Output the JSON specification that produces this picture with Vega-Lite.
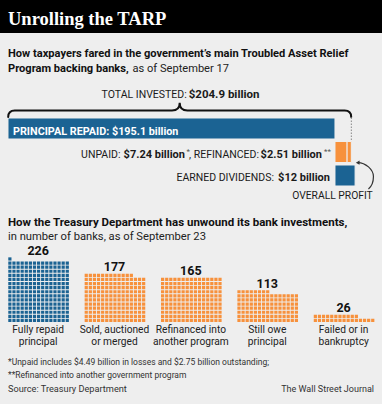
{
  "$schema": "https://vega.github.io/schema/vega-lite/v6.json",
  "background": "#eeeeee",
  "padding": 0,
  "spacing": 0,
  "config": {
    "view": {"stroke": null},
    "font": "Roboto, sans-serif",
    "text": {"color": "#1a1a1a"}
  },
  "datasets": {
    "annotations": [
      {
        "total_lead": "TOTAL INVESTED:",
        "total_amount": "$204.9 billion",
        "principal": "PRINCIPAL REPAID: $195.1 billion",
        "unpaid_lead": "UNPAID:",
        "unpaid_amount": "$7.24 billion",
        "refinanced_lead": ", REFINANCED:",
        "refinanced_amount": "$2.51 billion",
        "dividends_lead": "EARNED DIVIDENDS:",
        "dividends_amount": "$12 billion",
        "profit": "OVERALL PROFIT",
        "note_one": "*",
        "note_two": "**"
      }
    ]
  },
  "vconcat": [
    {
      "width": 382,
      "height": 33,
      "view": {"fill": "#000000", "stroke": null},
      "data": {"values": [{"headline": "Unrolling the TARP"}]},
      "mark": {"type": "text", "align": "left", "baseline": "alphabetic", "font": "Liberation Serif, DejaVu Serif, serif", "fontWeight": "bold", "fontSize": 18.5, "color": "#ffffff", "dx": 8},
      "encoding": {
        "x": {"datum": 0, "type": "quantitative", "scale": {"domain": [0, 1]}, "axis": null},
        "y": {"datum": 0.23, "type": "quantitative", "scale": {"domain": [0, 1]}, "axis": null},
        "text": {"field": "headline"}
      }
    },
    {
      "width": 382,
      "height": 47,
      "data": {"values": [{"heading": "How taxpayers fared in the government’s main Troubled Asset Relief", "heading2": "Program backing banks,", "dek": "as of September 17"}]},
      "encoding": {"x": {"datum": 0, "type": "quantitative", "scale": {"domain": [0, 1]}, "axis": null}},
      "layer": [
        {
          "mark": {"type": "text", "align": "left", "baseline": "alphabetic", "fontWeight": "bold", "fontSize": 11.1, "color": "#111111", "dx": 8},
          "encoding": {
            "y": {"datum": "line 1", "type": "nominal", "scale": {"type": "point", "domain": ["line 1", "line 2"], "padding": 1.067, "align": 0.76}, "axis": null},
            "text": {"field": "heading"}
          }
        },
        {
          "mark": {"type": "text", "align": "left", "baseline": "alphabetic", "fontWeight": "bold", "fontSize": 11.1, "color": "#111111", "dx": 8},
          "encoding": {"y": {"datum": "line 2", "type": "nominal"}, "text": {"field": "heading2"}}
        },
        {
          "mark": {"type": "text", "align": "left", "baseline": "alphabetic", "fontSize": 11.1, "color": "#222222", "dx": 132.5},
          "encoding": {"y": {"datum": "line 2", "type": "nominal"}, "text": {"field": "dek"}}
        }
      ]
    },
    {
      "width": 382,
      "height": 129.5,
      "layer": [
        {
          "data": {"values": [
            {"row": "Principal repaid", "part": "Principal repaid", "from": 0, "to": 195.1},
            {"row": "Unpaid and refinanced", "part": "Unpaid", "from": 195.1, "to": 202.34},
            {"row": "Unpaid and refinanced", "part": "Refinanced", "from": 202.34, "to": 204.85},
            {"row": "Earned dividends", "part": "Earned dividends", "from": 195.1, "to": 207.1}
          ]},
          "mark": {"type": "bar", "stroke": "#eeeeee", "strokeWidth": 1},
          "encoding": {
            "x": {"field": "from", "type": "quantitative", "scale": {"domain": [-4.77, 223.16], "nice": false, "zero": false}, "axis": null},
            "x2": {"field": "to"},
            "y": {"field": "row", "type": "nominal", "scale": {"domain": ["Total invested", "Principal repaid", "Unpaid and refinanced", "Earned dividends", "Overall profit"], "paddingInner": 0.106, "paddingOuter": 0.3085, "align": 1}, "axis": null},
            "color": {"field": "part", "type": "nominal", "scale": {"domain": ["Principal repaid", "Unpaid", "Refinanced", "Earned dividends"], "range": ["#1b6393", "#f7913c", "#f7913c", "#1b6393"]}, "legend": null}
          }
        },
        {
          "data": {"name": "annotations"},
          "mark": {"type": "point", "shape": "M-1,0.038Q-1,0,-0.962,0L-0.045,0Q0,0,0,-0.045Q0,0,0.045,0L0.962,0Q1,0,1,0.038", "size": 117649, "filled": false, "stroke": "#111111", "strokeWidth": 2, "opacity": 1, "strokeCap": "round"},
          "encoding": {"x": {"datum": 102.45}, "y": {"datum": "Total invested", "bandPosition": 0.76}}
        },
        {
          "data": {"name": "annotations"},
          "mark": {"type": "point", "shape": "M0,-1L0,1", "size": 576, "filled": false, "stroke": "#999999", "strokeWidth": 1.2, "strokeDash": [1.5, 1.5], "opacity": 1},
          "encoding": {"x": {"datum": 204.9}, "y": {"datum": "Principal repaid", "bandPosition": 0.55}}
        },
        {
          "data": {"name": "annotations"},
          "mark": {"type": "text", "align": "left", "baseline": "alphabetic", "fontWeight": "bold", "fontSize": 10.8, "color": "#ffffff", "dx": 5},
          "encoding": {"x": {"datum": 0}, "y": {"datum": "Principal repaid", "bandPosition": 0.8}, "text": {"field": "principal"}}
        },
        {
          "data": {"name": "annotations"},
          "mark": {"type": "text", "align": "right", "baseline": "alphabetic", "fontSize": 10.5, "dx": 7},
          "encoding": {"x": {"datum": 102.45}, "y": {"datum": "Total invested", "bandPosition": 0.18}, "text": {"field": "total_lead"}}
        },
        {
          "data": {"name": "annotations"},
          "mark": {"type": "text", "align": "left", "baseline": "alphabetic", "fontSize": 11.5, "fontWeight": "bold", "dx": 9},
          "encoding": {"x": {"datum": 102.45}, "y": {"datum": "Total invested", "bandPosition": 0.18}, "text": {"field": "total_amount"}}
        },
        {
          "data": {"name": "annotations"},
          "mark": {"type": "text", "align": "right", "baseline": "alphabetic", "fontSize": 10.5, "dx": -214.5},
          "encoding": {"x": {"datum": 195.1}, "y": {"datum": "Unpaid and refinanced", "bandPosition": 0.78}, "text": {"field": "unpaid_lead"}}
        },
        {
          "data": {"name": "annotations"},
          "mark": {"type": "text", "align": "right", "baseline": "alphabetic", "fontSize": 11, "fontWeight": "bold", "dx": -150},
          "encoding": {"x": {"datum": 195.1}, "y": {"datum": "Unpaid and refinanced", "bandPosition": 0.78}, "text": {"field": "unpaid_amount"}}
        },
        {
          "data": {"name": "annotations"},
          "mark": {"type": "text", "align": "right", "baseline": "alphabetic", "fontSize": 8, "color": "#555555", "dx": -145, "dy": -4},
          "encoding": {"x": {"datum": 195.1}, "y": {"datum": "Unpaid and refinanced", "bandPosition": 0.78}, "text": {"field": "note_one"}}
        },
        {
          "data": {"name": "annotations"},
          "mark": {"type": "text", "align": "right", "baseline": "alphabetic", "fontSize": 10.5, "dx": -76},
          "encoding": {"x": {"datum": 195.1}, "y": {"datum": "Unpaid and refinanced", "bandPosition": 0.78}, "text": {"field": "refinanced_lead"}}
        },
        {
          "data": {"name": "annotations"},
          "mark": {"type": "text", "align": "right", "baseline": "alphabetic", "fontSize": 11, "fontWeight": "bold", "dx": -13},
          "encoding": {"x": {"datum": 195.1}, "y": {"datum": "Unpaid and refinanced", "bandPosition": 0.78}, "text": {"field": "refinanced_amount"}}
        },
        {
          "data": {"name": "annotations"},
          "mark": {"type": "text", "align": "right", "baseline": "alphabetic", "fontSize": 8, "color": "#555555", "dx": -4, "dy": -4},
          "encoding": {"x": {"datum": 195.1}, "y": {"datum": "Unpaid and refinanced", "bandPosition": 0.78}, "text": {"field": "note_two"}}
        },
        {
          "data": {"name": "annotations"},
          "mark": {"type": "text", "align": "right", "baseline": "alphabetic", "fontSize": 10.5, "dx": -61},
          "encoding": {"x": {"datum": 195.1}, "y": {"datum": "Earned dividends", "bandPosition": 0.78}, "text": {"field": "dividends_lead"}}
        },
        {
          "data": {"name": "annotations"},
          "mark": {"type": "text", "align": "right", "baseline": "alphabetic", "fontSize": 11, "fontWeight": "bold", "dx": -5},
          "encoding": {"x": {"datum": 195.1}, "y": {"datum": "Earned dividends", "bandPosition": 0.78}, "text": {"field": "dividends_amount"}}
        },
        {
          "data": {"name": "annotations"},
          "mark": {"type": "point", "shape": "M-0.094,-0.875C0.375,-0.875,0.875,-0.4375,0.875,0C0.875,0.375,0.75,0.625,0.5625,0.78", "size": 1024, "filled": false, "stroke": "#333333", "strokeWidth": 1.2, "opacity": 1},
          "encoding": {"x": {"datum": 209.7}, "y": {"datum": "Earned dividends", "bandPosition": 0.55}}
        },
        {
          "data": {"name": "annotations"},
          "mark": {"type": "point", "shape": "triangle-left", "size": 18, "filled": true, "color": "#333333", "opacity": 1},
          "encoding": {"x": {"datum": 208.66}, "y": {"datum": "Unpaid and refinanced", "bandPosition": 1.01}}
        },
        {
          "data": {"name": "annotations"},
          "mark": {"type": "text", "align": "center", "baseline": "alphabetic", "fontSize": 10.3, "dx": -2.5},
          "encoding": {"x": {"datum": 195.1}, "y": {"datum": "Overall profit", "bandPosition": 0.5}, "text": {"field": "profit"}}
        }
      ]
    },
    {
      "width": 382,
      "height": 33,
      "data": {"values": [{"heading": "How the Treasury Department has unwound its bank investments,", "dek": "in number of banks, as of September 23"}]},
      "encoding": {"x": {"datum": 0, "type": "quantitative", "scale": {"domain": [0, 1]}, "axis": null}},
      "layer": [
        {
          "mark": {"type": "text", "align": "left", "baseline": "alphabetic", "fontWeight": "bold", "fontSize": 11.5, "color": "#111111", "dx": 8},
          "encoding": {
            "y": {"datum": "line 1", "type": "nominal", "scale": {"type": "point", "domain": ["line 1", "line 2"], "padding": 0.722, "align": 0.846}, "axis": null},
            "text": {"field": "heading"}
          }
        },
        {
          "mark": {"type": "text", "align": "left", "baseline": "alphabetic", "fontSize": 11.2, "color": "#222222", "dx": 8},
          "encoding": {"y": {"datum": "line 2", "type": "nominal"}, "text": {"field": "dek"}}
        }
      ]
    },
    {
      "data": {"values": [
        {"group": "Fully repaid\nprincipal", "r": 0, "n": 15},
        {"group": "Fully repaid\nprincipal", "r": 1, "n": 15},
        {"group": "Fully repaid\nprincipal", "r": 2, "n": 15},
        {"group": "Fully repaid\nprincipal", "r": 3, "n": 15},
        {"group": "Fully repaid\nprincipal", "r": 4, "n": 15},
        {"group": "Fully repaid\nprincipal", "r": 5, "n": 15},
        {"group": "Fully repaid\nprincipal", "r": 6, "n": 15},
        {"group": "Fully repaid\nprincipal", "r": 7, "n": 15},
        {"group": "Fully repaid\nprincipal", "r": 8, "n": 15},
        {"group": "Fully repaid\nprincipal", "r": 9, "n": 15},
        {"group": "Fully repaid\nprincipal", "r": 10, "n": 15},
        {"group": "Fully repaid\nprincipal", "r": 11, "n": 15},
        {"group": "Fully repaid\nprincipal", "r": 12, "n": 15},
        {"group": "Fully repaid\nprincipal", "r": 13, "n": 15},
        {"group": "Fully repaid\nprincipal", "r": 14, "n": 15},
        {"group": "Fully repaid\nprincipal", "r": 15, "n": 1},
        {"group": "Sold, auctioned\nor merged", "r": 0, "n": 15},
        {"group": "Sold, auctioned\nor merged", "r": 1, "n": 15},
        {"group": "Sold, auctioned\nor merged", "r": 2, "n": 15},
        {"group": "Sold, auctioned\nor merged", "r": 3, "n": 15},
        {"group": "Sold, auctioned\nor merged", "r": 4, "n": 15},
        {"group": "Sold, auctioned\nor merged", "r": 5, "n": 15},
        {"group": "Sold, auctioned\nor merged", "r": 6, "n": 15},
        {"group": "Sold, auctioned\nor merged", "r": 7, "n": 15},
        {"group": "Sold, auctioned\nor merged", "r": 8, "n": 15},
        {"group": "Sold, auctioned\nor merged", "r": 9, "n": 15},
        {"group": "Sold, auctioned\nor merged", "r": 10, "n": 15},
        {"group": "Sold, auctioned\nor merged", "r": 11, "n": 12},
        {"group": "Refinanced into\nanother program", "r": 0, "n": 15},
        {"group": "Refinanced into\nanother program", "r": 1, "n": 15},
        {"group": "Refinanced into\nanother program", "r": 2, "n": 15},
        {"group": "Refinanced into\nanother program", "r": 3, "n": 15},
        {"group": "Refinanced into\nanother program", "r": 4, "n": 15},
        {"group": "Refinanced into\nanother program", "r": 5, "n": 15},
        {"group": "Refinanced into\nanother program", "r": 6, "n": 15},
        {"group": "Refinanced into\nanother program", "r": 7, "n": 15},
        {"group": "Refinanced into\nanother program", "r": 8, "n": 15},
        {"group": "Refinanced into\nanother program", "r": 9, "n": 15},
        {"group": "Refinanced into\nanother program", "r": 10, "n": 15},
        {"group": "Still owe\nprincipal", "r": 0, "n": 15},
        {"group": "Still owe\nprincipal", "r": 1, "n": 15},
        {"group": "Still owe\nprincipal", "r": 2, "n": 15},
        {"group": "Still owe\nprincipal", "r": 3, "n": 15},
        {"group": "Still owe\nprincipal", "r": 4, "n": 15},
        {"group": "Still owe\nprincipal", "r": 5, "n": 15},
        {"group": "Still owe\nprincipal", "r": 6, "n": 15},
        {"group": "Still owe\nprincipal", "r": 7, "n": 8},
        {"group": "Failed or in\nbankruptcy", "r": 0, "n": 15},
        {"group": "Failed or in\nbankruptcy", "r": 1, "n": 11}
      ]},
      "spacing": 7.37,
      "bounds": "flush",
      "facet": {
        "column": {
          "field": "group",
          "type": "nominal",
          "sort": ["Fully repaid\nprincipal", "Sold, auctioned\nor merged", "Refinanced into\nanother program", "Still owe\nprincipal", "Failed or in\nbankruptcy"],
          "header": null
        }
      },
      "spec": {
        "width": 68.88,
        "height": 107.38,
        "layer": [
          {
            "mark": {"type": "rule", "strokeWidth": 3.2, "strokeDash": [3.2, 0.9]},
            "encoding": {
              "x": {"field": "n", "type": "quantitative", "scale": {"domain": [-1.8, 15], "nice": false, "zero": false}, "axis": null},
              "x2": {"datum": 0},
              "y": {"field": "r", "type": "quantitative", "scale": {"domain": [-7.3, 18.89], "nice": false, "zero": false}, "axis": null},
              "color": {"condition": {"test": "indexof(datum.group, 'Fully repaid') >= 0", "value": "#1b6393"}, "value": "#f7913c"}
            }
          },
          {
            "mark": {"type": "text", "align": "center", "baseline": "alphabetic", "fontWeight": "bold", "fontSize": 12.5, "color": "#111111", "dy": -4},
            "encoding": {
              "x": {"datum": 7.5},
              "y": {"aggregate": "max", "field": "r", "type": "quantitative"},
              "text": {"aggregate": "sum", "field": "n", "type": "quantitative"}
            }
          },
          {
            "transform": [{"filter": "datum.r == 0"}],
            "mark": {"type": "text", "align": "center", "baseline": "top", "fontSize": 10.2, "lineBreak": "\n", "lineHeight": 12.3, "color": "#222222", "dy": 2.5},
            "encoding": {
              "x": {"datum": 7.5},
              "y": {"datum": -0.5},
              "text": {"field": "group"}
            }
          }
        ]
      }
    },
    {
      "width": 382,
      "height": 54.12,
      "data": {"values": [{"note1": "*Unpaid includes $4.49 billion in losses and $2.75 billion outstanding;", "note2": "**Refinanced into another government program", "source": "Source: Treasury Department", "credit": "The Wall Street Journal"}]},
      "encoding": {"x": {"datum": 0, "type": "quantitative", "scale": {"domain": [0, 1]}, "axis": null}},
      "layer": [
        {
          "mark": {"type": "text", "align": "left", "baseline": "alphabetic", "fontSize": 8.5, "color": "#333333", "dx": 8},
          "encoding": {
            "y": {"datum": "note1", "type": "nominal", "scale": {"type": "point", "domain": ["note1", "note2", "source"], "padding": 1.254, "align": 0.5}, "axis": null},
            "text": {"field": "note1"}
          }
        },
        {
          "mark": {"type": "text", "align": "left", "baseline": "alphabetic", "fontSize": 8.5, "color": "#333333", "dx": 8},
          "encoding": {"y": {"datum": "note2", "type": "nominal"}, "text": {"field": "note2"}}
        },
        {
          "mark": {"type": "text", "align": "left", "baseline": "alphabetic", "fontSize": 9.2, "color": "#333333", "dx": 8},
          "encoding": {"y": {"datum": "source", "type": "nominal"}, "text": {"field": "source"}}
        },
        {
          "mark": {"type": "text", "align": "right", "baseline": "alphabetic", "fontSize": 9, "color": "#333333", "dx": -8},
          "encoding": {"x": {"datum": 1}, "y": {"datum": "source", "type": "nominal"}, "text": {"field": "credit"}}
        }
      ]
    }
  ]
}
